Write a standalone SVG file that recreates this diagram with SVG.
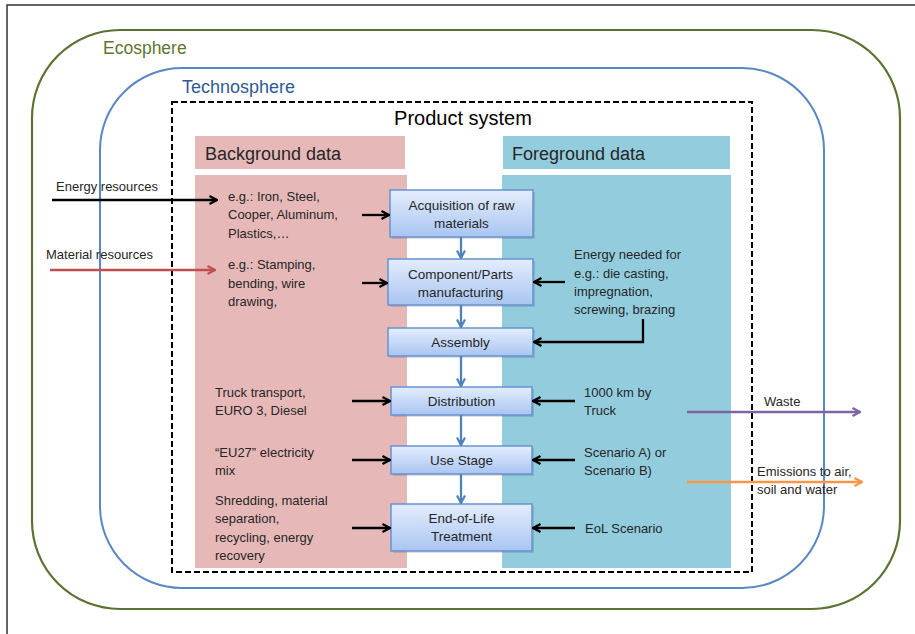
<svg xmlns="http://www.w3.org/2000/svg" width="915" height="634" viewBox="0 0 915 634">
  <defs>
    <linearGradient id="boxg" x1="0" y1="0" x2="0" y2="1">
      <stop offset="0" stop-color="#e4edfd"/>
      <stop offset="1" stop-color="#a9c5f2"/>
    </linearGradient>
    <marker id="ab" viewBox="0 0 10 10" refX="9" refY="5" markerWidth="10" markerHeight="10" markerUnits="userSpaceOnUse" orient="auto">
      <path d="M1.5,1 L9,5 L1.5,9" fill="none" stroke="#000" stroke-width="2.2"/>
    </marker>
    <marker id="abl" viewBox="0 0 10 10" refX="9" refY="5" markerWidth="10" markerHeight="10" markerUnits="userSpaceOnUse" orient="auto">
      <path d="M1.5,1 L9,5 L1.5,9" fill="none" stroke="#4f81bd" stroke-width="2.2"/>
    </marker>
    <marker id="ar" viewBox="0 0 10 10" refX="9" refY="5" markerWidth="10" markerHeight="10" markerUnits="userSpaceOnUse" orient="auto">
      <path d="M1.5,1 L9,5 L1.5,9" fill="none" stroke="#c0504d" stroke-width="2.2"/>
    </marker>
    <marker id="ap" viewBox="0 0 10 10" refX="9" refY="5" markerWidth="10" markerHeight="10" markerUnits="userSpaceOnUse" orient="auto">
      <path d="M1.5,1 L9,5 L1.5,9" fill="none" stroke="#8064a2" stroke-width="2.2"/>
    </marker>
    <marker id="ao" viewBox="0 0 10 10" refX="9" refY="5" markerWidth="10" markerHeight="10" markerUnits="userSpaceOnUse" orient="auto">
      <path d="M1.5,1 L9,5 L1.5,9" fill="none" stroke="#f79646" stroke-width="2.2"/>
    </marker>
  </defs>
  <style>
    text { font-family: "Liberation Sans", Arial, sans-serif; fill: #262626; }
    .t { font-size: 13px; }
    .bt { font-size: 13.5px; text-anchor: middle; }
    .hd { font-size: 18px; }
    .box { fill: url(#boxg); stroke: #6792d0; stroke-width: 1.5; }
    .sh { fill: #000; opacity: 0.12; }
    .k { stroke: #000; stroke-width: 2.3; fill: none; marker-end: url(#ab); }
    .b { stroke: #4f81bd; stroke-width: 2.3; fill: none; marker-end: url(#abl); }
  </style>
  <rect x="0" y="0" width="915" height="634" fill="#fff"/>
  <rect x="7" y="5" width="930" height="660" fill="none" stroke="#333" stroke-width="1.5"/>

  <g id="ecosphere">
    <rect x="32" y="30" width="868" height="579" rx="88" ry="88" fill="none" stroke="#5b7332" stroke-width="2.2"/>
    <text x="103" y="54" style="font-size:17.5px;fill:#5e7532">Ecosphere</text>
  </g>
  <g id="technosphere">
    <rect x="100" y="68" width="724" height="520" rx="82" ry="82" fill="none" stroke="#5a87c6" stroke-width="2"/>
    <text x="182" y="93" style="font-size:18px;fill:#2f5a96">Technosphere</text>
  </g>
  <g id="background">
    <rect x="195" y="136" width="210" height="33" fill="#e6b9b8"/>
    <rect x="195" y="175" width="212" height="393" fill="#e6b9b8"/>
    <text class="hd" x="205" y="160">Background data</text>
  </g>
  <g id="foreground">
    <rect x="503" y="136" width="227" height="33" fill="#93cddd"/>
    <rect x="502" y="175" width="229" height="393" fill="#93cddd"/>
    <text class="hd" x="512" y="160">Foreground data</text>
  </g>
  <g id="product-system">
    <rect x="172" y="102" width="580" height="470" fill="none" stroke="#000" stroke-width="2" stroke-dasharray="6,3"/>
    <text x="463" y="125" style="font-size:20px;text-anchor:middle;fill:#000">Product system</text>
  </g>

  <g id="bg-texts">
    <text class="t" x="228" y="201">e.g.: Iron, Steel,</text>
    <text class="t" x="228" y="219">Cooper, Aluminum,</text>
    <text class="t" x="228" y="238">Plastics,…</text>
    <text class="t" x="228" y="269">e.g.: Stamping,</text>
    <text class="t" x="228" y="288">bending, wire</text>
    <text class="t" x="228" y="306">drawing,</text>
    <text class="t" x="215" y="397">Truck transport,</text>
    <text class="t" x="215" y="415">EURO 3, Diesel</text>
    <text class="t" x="215" y="457">“EU27” electricity</text>
    <text class="t" x="215" y="475">mix</text>
    <text class="t" x="215" y="505">Shredding, material</text>
    <text class="t" x="215" y="523">separation,</text>
    <text class="t" x="215" y="542">recycling, energy</text>
    <text class="t" x="215" y="560">recovery</text>
  </g>
  <g id="fg-texts">
    <text class="t" x="574" y="259">Energy needed for</text>
    <text class="t" x="574" y="278">e.g.: die casting,</text>
    <text class="t" x="574" y="296">impregnation,</text>
    <text class="t" x="574" y="314">screwing, brazing</text>
    <text class="t" x="584" y="397">1000 km by</text>
    <text class="t" x="584" y="415">Truck</text>
    <text class="t" x="584" y="457">Scenario A) or</text>
    <text class="t" x="584" y="475">Scenario B)</text>
    <text class="t" x="585" y="533">EoL Scenario</text>
  </g>
  <g id="external-labels">
    <text class="t" x="56" y="191">Energy resources</text>
    <text class="t" x="46" y="259">Material resources</text>
    <text class="t" x="764" y="406">Waste</text>
    <text class="t" x="757" y="476">Emissions to air,</text>
    <text class="t" x="757" y="494">soil and water</text>
  </g>

  <g id="acquisition">
    <rect class="sh" x="392" y="192" width="143" height="47"/>
    <rect class="box" x="390" y="190" width="143" height="47"/>
    <text class="bt" x="461.5" y="210">Acquisition of raw</text>
    <text class="bt" x="461.5" y="228">materials</text>
  </g>
  <g id="manufacturing">
    <rect class="sh" x="390" y="261" width="145" height="46"/>
    <rect class="box" x="388" y="259" width="145" height="46"/>
    <text class="bt" x="460.5" y="279">Component/Parts</text>
    <text class="bt" x="460.5" y="297">manufacturing</text>
  </g>
  <g id="assembly">
    <rect class="sh" x="390" y="330" width="145" height="28"/>
    <rect class="box" x="388" y="328" width="145" height="28"/>
    <text class="bt" x="460.5" y="347">Assembly</text>
  </g>
  <g id="distribution">
    <rect class="sh" x="393" y="389" width="141" height="28"/>
    <rect class="box" x="391" y="387" width="141" height="28"/>
    <text class="bt" x="461.5" y="406">Distribution</text>
  </g>
  <g id="use-stage">
    <rect class="sh" x="393" y="448" width="141" height="28"/>
    <rect class="box" x="391" y="446" width="141" height="28"/>
    <text class="bt" x="461.5" y="465">Use Stage</text>
  </g>
  <g id="end-of-life">
    <rect class="sh" x="393" y="506" width="141" height="47"/>
    <rect class="box" x="391" y="504" width="141" height="47"/>
    <text class="bt" x="461.5" y="523">End-of-Life</text>
    <text class="bt" x="461.5" y="541">Treatment</text>
  </g>

  <g id="connectors">
    <line class="b" x1="461" y1="237" x2="461" y2="258"/>
    <line class="b" x1="461" y1="305" x2="461" y2="327"/>
    <line class="b" x1="461" y1="356" x2="461" y2="386"/>
    <line class="b" x1="461" y1="415" x2="461" y2="445"/>
    <line class="b" x1="461" y1="474" x2="461" y2="503"/>

    <line class="k" x1="52" y1="200" x2="217" y2="200"/>
    <line x1="50" y1="270" x2="215" y2="270" stroke="#c0504d" stroke-width="2.3" marker-end="url(#ar)"/>

    <line class="k" x1="362" y1="215" x2="389" y2="215"/>
    <line class="k" x1="362" y1="283" x2="387" y2="283"/>
    <line class="k" x1="565" y1="282" x2="534" y2="282"/>
    <path class="k" d="M643,319 V342 H534"/>
    <line class="k" x1="352" y1="401" x2="390" y2="401"/>
    <line class="k" x1="575" y1="401" x2="533" y2="401"/>
    <line class="k" x1="352" y1="460" x2="390" y2="460"/>
    <line class="k" x1="575" y1="460" x2="533" y2="460"/>
    <line class="k" x1="352" y1="528" x2="390" y2="528"/>
    <line class="k" x1="575" y1="528" x2="533" y2="528"/>

    <line x1="687" y1="412" x2="860" y2="412" stroke="#8064a2" stroke-width="2.3" marker-end="url(#ap)"/>
    <line x1="687" y1="482" x2="862" y2="482" stroke="#f79646" stroke-width="2.3" marker-end="url(#ao)"/>
  </g>
</svg>
